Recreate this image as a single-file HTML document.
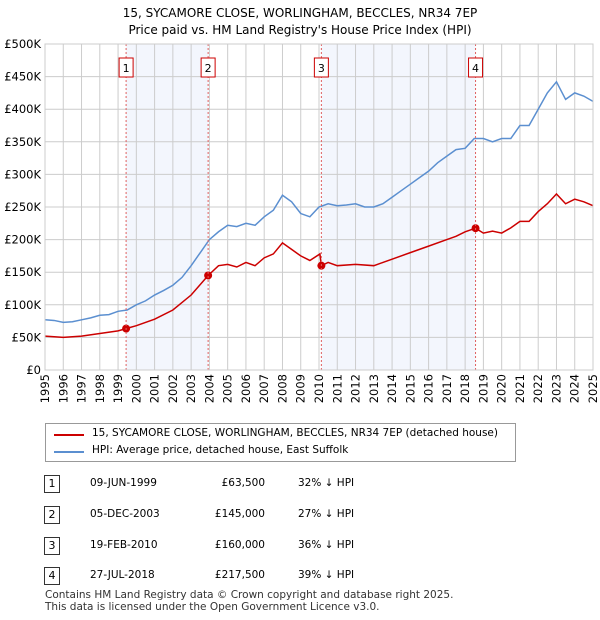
<!DOCTYPE html>
<html><head><meta charset="utf-8"><style>
body{margin:0;background:#fff;font-family:"DejaVu Sans","Liberation Sans",sans-serif;}
#wrap{position:relative;width:600px;height:620px;overflow:hidden}
.t{position:absolute;font-size:12px;color:#000;white-space:nowrap}
svg text{font-family:"DejaVu Sans","Liberation Sans",sans-serif}
</style></head><body><div id="wrap">
<svg id="chart" width="600" height="420" style="position:absolute;left:0;top:0">
<text x="300" y="17" text-anchor="middle" font-size="12">15, SYCAMORE CLOSE, WORLINGHAM, BECCLES, NR34 7EP</text>
<text x="300" y="34" text-anchor="middle" font-size="12">Price paid vs. HM Land Registry's House Price Index (HPI)</text>
<g id="shade"></g><g id="grid"></g><g id="lines"></g><g id="marks"></g><g id="axes"></g>
</svg>
<div style="position:absolute;left:45px;top:423px;width:469px;height:37px;border:1px solid #999">
<div style="position:absolute;left:8px;top:10px;width:30px;height:2px;background:#cc0000"></div>
<div class="t" style="left:46px;top:3px;font-size:10.5px">15, SYCAMORE CLOSE, WORLINGHAM, BECCLES, NR34 7EP (detached house)</div>
<div style="position:absolute;left:8px;top:27px;width:30px;height:2px;background:#5b8fd0"></div>
<div class="t" style="left:46px;top:20px;font-size:10.5px">HPI: Average price, detached house, East Suffolk</div>
</div>
<div id="table"></div>
<div class="t" style="left:45px;top:589px;font-size:10.5px;color:#333">Contains HM Land Registry data © Crown copyright and database right 2025.</div>
<div class="t" style="left:45px;top:601px;font-size:10.5px;color:#333">This data is licensed under the Open Government Licence v3.0.</div>
</div>
<script>
const hpiYears=[1995,1995.5,1996,1996.5,1997,1997.5,1998,1998.5,1999,1999.5,2000,2000.5,2001,2001.5,2002,2002.5,2003,2003.5,2004,2004.5,2005,2005.5,2006,2006.5,2007,2007.5,2008,2008.5,2009,2009.5,2010,2010.5,2011,2011.5,2012,2012.5,2013,2013.5,2014,2014.5,2015,2015.5,2016,2016.5,2017,2017.5,2018,2018.5,2019,2019.5,2020,2020.5,2021,2021.5,2022,2022.5,2023,2023.5,2024,2024.5,2025];
const hpiValues=[77,76,73,74,77,80,84,85,90,92,100,106,115,122,130,142,160,180,200,212,222,220,225,222,235,245,268,258,240,235,250,255,252,253,255,250,250,255,265,275,285,295,305,318,328,338,340,355,355,350,355,355,375,375,400,425,442,415,425,420,412];
const redYears=[1995,1996,1997,1998,1999,1999.44,2000,2001,2002,2003,2003.93,2004.5,2005,2005.5,2006,2006.5,2007,2007.5,2008,2008.5,2009,2009.5,2010.05,2010.13,2010.5,2011,2012,2013,2013.5,2014,2015,2016,2017,2017.5,2018,2018.57,2019,2019.5,2020,2020.5,2021,2021.5,2022,2022.5,2023,2023.5,2024,2024.5,2025];
const redValues=[52,50,52,56,60,63.5,68,78,92,115,145,160,162,158,165,160,172,178,195,185,175,168,178,160,165,160,162,160,165,170,180,190,200,205,212,217.5,210,213,210,218,228,228,243,255,270,255,262,258,252];
const saleYears=[1999.44,2003.93,2010.13,2018.57];
const salePrices=[63.5,145,160,217.5];
const saleLabels=["1","2","3","4"];
const saleDates=["09-JUN-1999","05-DEC-2003","19-FEB-2010","27-JUL-2018"];
const salePriceText=["£63,500","£145,000","£160,000","£217,500"];
const saleHpiText=["32% ↓ HPI","27% ↓ HPI","36% ↓ HPI","39% ↓ HPI"];
const yTicks=[0,50,100,150,200,250,300,350,400,450,500];
const yTickLabels=["£0","£50K","£100K","£150K","£200K","£250K","£300K","£350K","£400K","£450K","£500K"];
const xTicks=[1995,1996,1997,1998,1999,2000,2001,2002,2003,2004,2005,2006,2007,2008,2009,2010,2011,2012,2013,2014,2015,2016,2017,2018,2019,2020,2021,2022,2023,2024,2025];

const X0=45,X1=593,Y0=370,Y1=44;
const xs=y=>X0+(y-1995)/30*(X1-X0);
const ys=v=>Y0-v/500*(Y0-Y1);
const NS="http://www.w3.org/2000/svg";
function mk(tag,attrs,parent){const e=document.createElementNS(NS,tag);for(const k in attrs)e.setAttribute(k,attrs[k]);parent.appendChild(e);return e;}
const grid=document.getElementById('grid'),shade=document.getElementById('shade'),lines=document.getElementById('lines'),marks=document.getElementById('marks'),axes=document.getElementById('axes');
yTicks.forEach((v,i)=>{
 const l=mk('line',{x1:X0,x2:X1,y1:ys(v),y2:ys(v),stroke:'#cccccc','stroke-width':1},grid);
 
 
 const t=mk('text',{x:X0-4,y:ys(v)+4,'text-anchor':'end','font-size':11.5},axes);
 t.textContent=yTickLabels[i];
 
 
});
xTicks.forEach(yr=>{
 const l=mk('line',{x1:xs(yr),x2:xs(yr),y1:Y1,y2:Y0,stroke:'#cccccc','stroke-width':1},grid);
 
 
 const t=mk('text',{x:0,y:0,'text-anchor':'end','font-size':11.5,transform:`translate(${xs(yr)+4},${Y0+4}) rotate(-90)`},axes);
 t.textContent=yr;
 
 
});
const fr=mk('rect',{x:X0,y:Y1,width:X1-X0,height:Y0-Y1,fill:'none',stroke:'#cccccc'},axes);


[[0,1],[2,3]].forEach(([a,b])=>{
 const r=mk('rect',{x:xs(saleYears[a]),y:Y1,width:xs(saleYears[b])-xs(saleYears[a]),height:Y0-Y1,fill:'#f3f6fd'},shade);
 
 
});
saleYears.forEach((yr,i)=>{
 const l=mk('line',{x1:xs(yr),x2:xs(yr),y1:Y1,y2:Y0,stroke:'#e06060','stroke-dasharray':'2,2'},marks);
 
 
 const r=mk('rect',{x:xs(yr)-7,y:58,width:14,height:19,fill:'#fff',stroke:'#cc0000'},marks);
 
 
 const t=mk('text',{x:xs(yr),y:72,'text-anchor':'middle','font-size':11},marks);
 t.textContent=saleLabels[i];
 
 
});
const hp=mk('polyline',{points:hpiYears.map((y,i)=>xs(y)+','+ys(hpiValues[i])).join(' '),fill:'none',stroke:'#5b8fd0','stroke-width':1.5},lines);


const rp=mk('polyline',{points:redYears.map((y,i)=>xs(y)+','+ys(redValues[i])).join(' '),fill:'none',stroke:'#cc0000','stroke-width':1.5},lines);


saleYears.forEach((yr,i)=>{
 const c=mk('circle',{cx:xs(yr),cy:ys(salePrices[i]),r:4,fill:'#cc0000'},lines);
 
 
});
const tb=document.getElementById('table');
const rowY=[475,506,537,567];
saleLabels.forEach((s,i)=>{
 const row=document.createElement('div');
 
 
 row.style.cssText=`position:absolute;left:0;top:${rowY[i]}px;width:600px;height:18px`;
 row.innerHTML=`<div style="position:absolute;left:44px;top:0;width:14px;height:16px;border:1px solid #333;font-size:11px;text-align:center;line-height:16px">${s}</div><div class="t" style="left:90px;top:2px;font-size:10.5px">${saleDates[i]}</div><div class="t" style="left:180px;top:2px;width:85px;text-align:right;font-size:10.5px">${salePriceText[i]}</div><div class="t" style="left:298px;top:2px;font-size:10.5px">${saleHpiText[i]}</div>`;
 tb.appendChild(row);
});
</script></body></html>
